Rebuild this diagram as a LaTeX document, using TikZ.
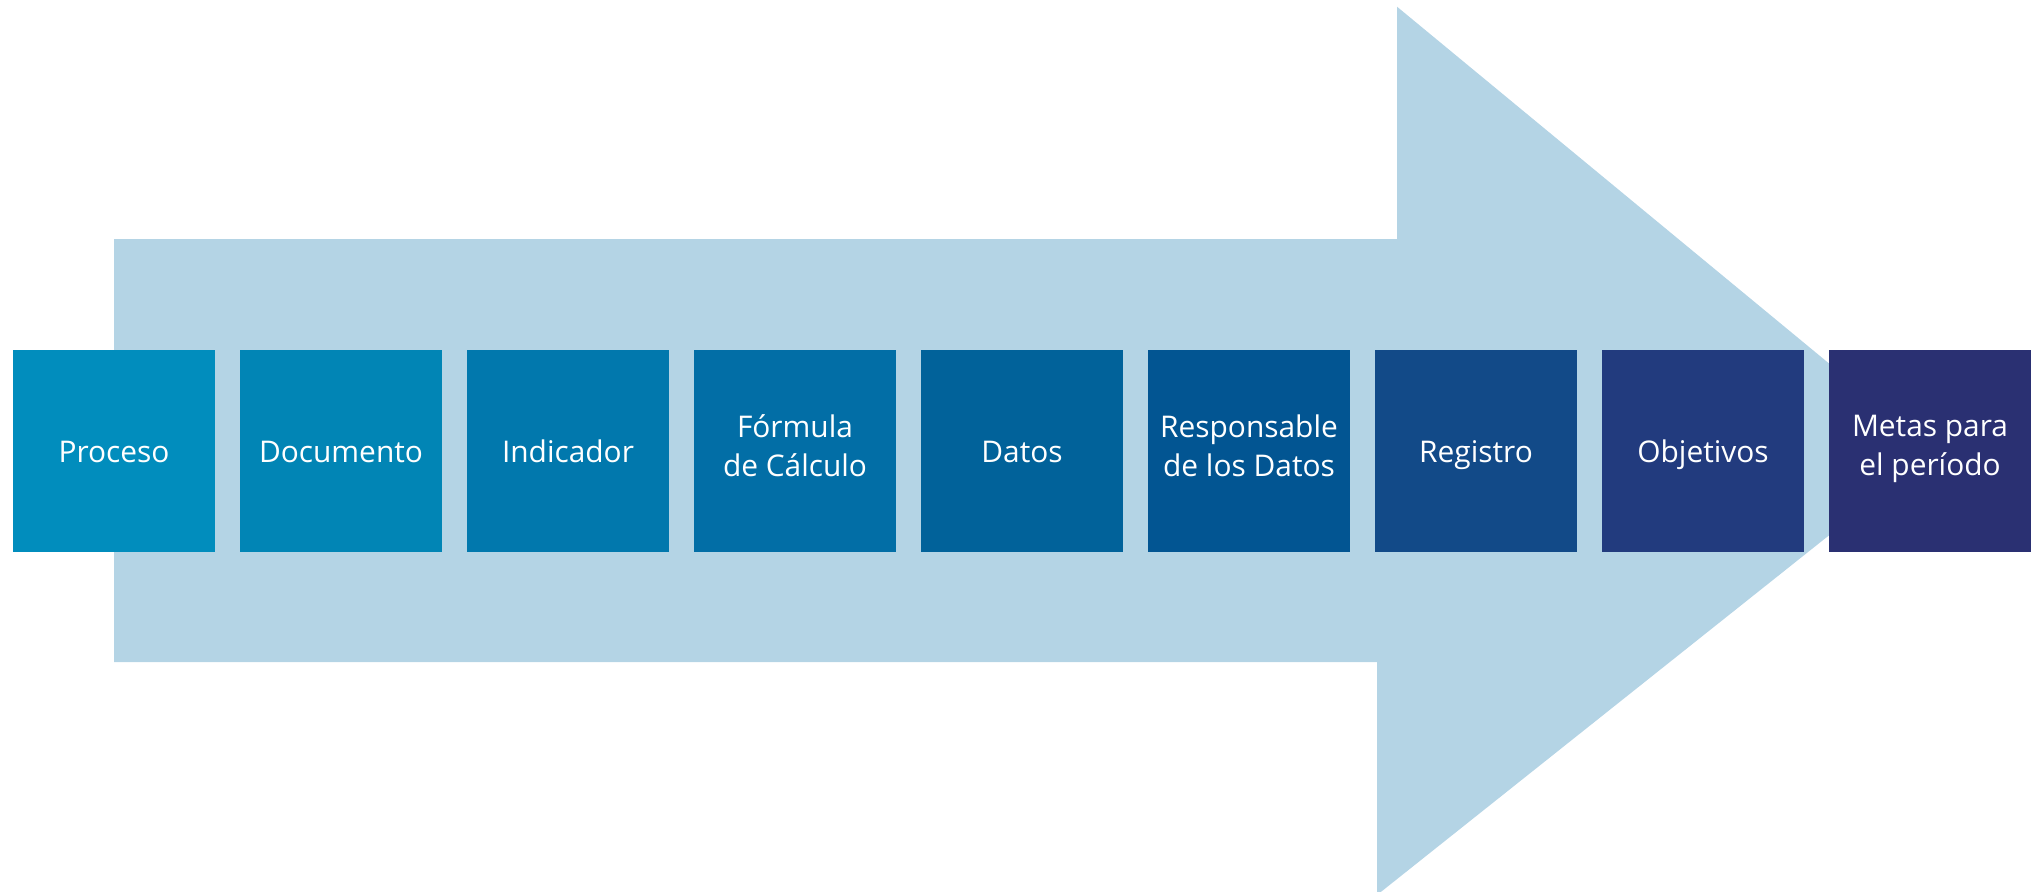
\documentclass[tikz,border=0pt]{standalone}
\usepackage{fontspec}
\setmainfont{Open Sans}
\usepackage{tikz}
\usetikzlibrary{positioning}
\definecolor{flechaazul}{HTML}{B4D4E5}
\definecolor{azuluno}{HTML}{018DBD}
\definecolor{azuldos}{HTML}{0185B5}
\definecolor{azultres}{HTML}{0178AD}
\definecolor{azulcuatro}{HTML}{026EA6}
\definecolor{azulcinco}{HTML}{01629A}
\definecolor{azulseis}{HTML}{025592}
\definecolor{azulsiete}{HTML}{124A88}
\definecolor{azulocho}{HTML}{223B7E}
\definecolor{azulnueve}{HTML}{2A3072}
\newcommand\puntalalto{\rule{0pt}{9.8pt}}
\newcommand\puntalbajo{\rule[-3.2pt]{0pt}{3.2pt}}

\begin{document}
\begin{tikzpicture}[node distance=0.25cm,
	caja/.style={minimum width=2.02cm, minimum height=2.02cm, inner sep=0pt, outer sep=0pt,
		text=white, align=center, font=\fontsize{8.5}{11}\selectfont,
		execute at begin node=\puntalalto, execute at end node=\puntalbajo}]
				\useasboundingbox (0,0) rectangle (20.38,8.91);
				% flecha de fondo
				\fill[flechaazul] (1.14,2.29) -- (1.14,6.52) -- (13.97,6.52) -- (13.97,8.843)
					-- (19.35,4.40) -- (13.77,-0.04) -- (13.77,2.29) -- cycle;
				% cajas
				\node[caja, fill=azuluno] (proceso) at (1.14,4.40) {Proceso};
				\node[caja, fill=azuldos, right=of proceso] (documento) {Documento};
				\node[caja, fill=azultres, right=of documento] (indicador) {Indicador};
				\node[caja, fill=azulcuatro, right=of indicador] (formula) {Fórmula\\de Cálculo};
				\node[caja, fill=azulcinco, right=of formula] (datos) {Datos};
				\node[caja, fill=azulseis, right=of datos] (responsable) {Responsable\\de los Datos};
				\node[caja, fill=azulsiete, right=of responsable] (registro) {Registro};
				\node[caja, fill=azulocho, right=of registro] (objetivos) {Objetivos};
				\node[caja, fill=azulnueve, right=of objetivos] (metas) {Metas para\\el período};
			\end{tikzpicture}
\end{document}
